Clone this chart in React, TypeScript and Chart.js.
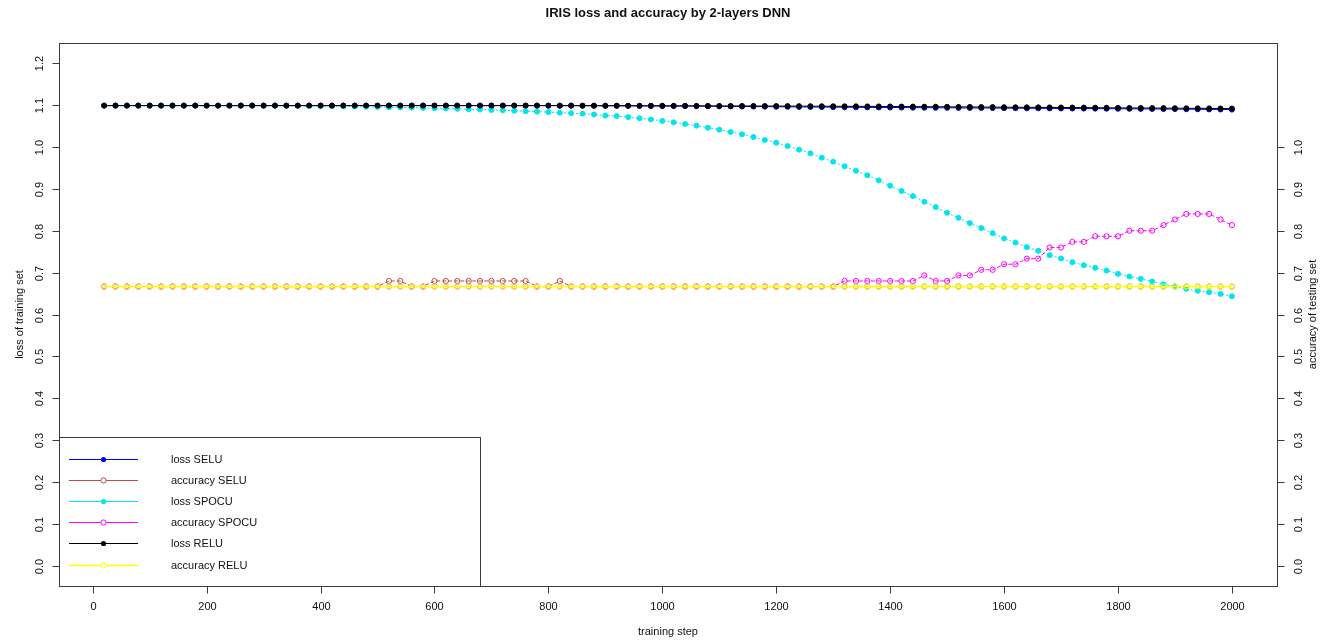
import React, { useEffect, useRef } from "react";
import { Chart, registerables } from "chart.js";

Chart.register(...registerables);

// ---------------- data ----------------
const steps = [
  20, 40, 60, 80, 100, 120, 140, 160, 180, 200,
  220, 240, 260, 280, 300, 320, 340, 360, 380, 400,
  420, 440, 460, 480, 500, 520, 540, 560, 580, 600,
  620, 640, 660, 680, 700, 720, 740, 760, 780, 800,
  820, 840, 860, 880, 900, 920, 940, 960, 980, 1000,
  1020, 1040, 1060, 1080, 1100, 1120, 1140, 1160, 1180, 1200,
  1220, 1240, 1260, 1280, 1300, 1320, 1340, 1360, 1380, 1400,
  1420, 1440, 1460, 1480, 1500, 1520, 1540, 1560, 1580, 1600,
  1620, 1640, 1660, 1680, 1700, 1720, 1740, 1760, 1780, 1800,
  1820, 1840, 1860, 1880, 1900, 1920, 1940, 1960, 1980, 2000,
];

const lossSELU = [
  1.0986, 1.0986, 1.0986, 1.0986, 1.0986, 1.0986, 1.0986, 1.0986, 1.0986, 1.0986,
  1.0986, 1.0986, 1.0986, 1.0986, 1.0986, 1.0986, 1.0986, 1.0986, 1.0986, 1.0986,
  1.0986, 1.0986, 1.0986, 1.0986, 1.0986, 1.0986, 1.0986, 1.0986, 1.0986, 1.0986,
  1.0986, 1.0986, 1.0986, 1.0986, 1.0986, 1.0986, 1.0986, 1.0986, 1.0986, 1.0986,
  1.0985, 1.0985, 1.0984, 1.0983, 1.0982, 1.0981, 1.0980, 1.0979, 1.0978, 1.0977,
  1.0976, 1.0974, 1.0973, 1.0971, 1.0969, 1.0967, 1.0965, 1.0963, 1.0961, 1.0959,
  1.0957, 1.0955, 1.0953, 1.0951, 1.0949, 1.0947, 1.0945, 1.0944, 1.0942, 1.0940,
  1.0939, 1.0937, 1.0936, 1.0934, 1.0933, 1.0931, 1.0930, 1.0928, 1.0927, 1.0925,
  1.0924, 1.0922, 1.0921, 1.0919, 1.0918, 1.0916, 1.0915, 1.0913, 1.0912, 1.0910,
  1.0909, 1.0907, 1.0906, 1.0904, 1.0902, 1.0900, 1.0898, 1.0895, 1.0893, 1.0890,
];

const accuracySELU = [
  0.6667, 0.6667, 0.6667, 0.6667, 0.6667, 0.6667, 0.6667, 0.6667, 0.6667, 0.6667,
  0.6667, 0.6667, 0.6667, 0.6667, 0.6667, 0.6667, 0.6667, 0.6667, 0.6667, 0.6667,
  0.6667, 0.6667, 0.6667, 0.6667, 0.6667, 0.68, 0.68, 0.6667, 0.6667, 0.68,
  0.68, 0.68, 0.68, 0.68, 0.68, 0.68, 0.68, 0.68, 0.6667, 0.6667,
  0.68, 0.6667, 0.6667, 0.6667, 0.6667, 0.6667, 0.6667, 0.6667, 0.6667, 0.6667,
  0.6667, 0.6667, 0.6667, 0.6667, 0.6667, 0.6667, 0.6667, 0.6667, 0.6667, 0.6667,
  0.6667, 0.6667, 0.6667, 0.6667, 0.6667, 0.6667, 0.6667, 0.6667, 0.6667, 0.6667,
  0.6667, 0.6667, 0.6667, 0.6667, 0.6667, 0.6667, 0.6667, 0.6667, 0.6667, 0.6667,
  0.6667, 0.6667, 0.6667, 0.6667, 0.6667, 0.6667, 0.6667, 0.6667, 0.6667, 0.6667,
  0.6667, 0.6667, 0.6667, 0.6667, 0.6667, 0.6667, 0.6667, 0.6667, 0.6667, 0.6667,
];

const lossSPOCU = [
  1.0986, 1.0986, 1.0986, 1.0986, 1.0986, 1.0986, 1.0986, 1.0986, 1.0986, 1.0986,
  1.0986, 1.0986, 1.0986, 1.0986, 1.0985, 1.0984, 1.0982, 1.0980, 1.0977, 1.0974,
  1.0971, 1.0967, 1.0963, 1.0959, 1.0954, 1.0949, 1.0943, 1.0937, 1.0930, 1.0923,
  1.0916, 1.0908, 1.0900, 1.0891, 1.0882, 1.0873, 1.0863, 1.0852, 1.0842, 1.0831,
  1.0818, 1.0806, 1.0794, 1.0774, 1.0750, 1.0735, 1.0711, 1.0683, 1.0655, 1.0621,
  1.0587, 1.0547, 1.0507, 1.0459, 1.0412, 1.0356, 1.0300, 1.0237, 1.0165, 1.0101,
  1.0022, 0.9934, 0.9846, 0.9743, 0.9647, 0.9536, 0.9432, 0.9321, 0.9201, 0.9073,
  0.8946, 0.8826, 0.8691, 0.8564, 0.8428, 0.8308, 0.8181, 0.8062, 0.7942, 0.7815,
  0.7719, 0.7608, 0.7520, 0.7416, 0.7337, 0.7249, 0.7177, 0.7114, 0.7050, 0.6970,
  0.6907, 0.6851, 0.6787, 0.6723, 0.6668, 0.6612, 0.6564, 0.6532, 0.6492, 0.6436,
];

const accuracySPOCU = [
  0.6667, 0.6667, 0.6667, 0.6667, 0.6667, 0.6667, 0.6667, 0.6667, 0.6667, 0.6667,
  0.6667, 0.6667, 0.6667, 0.6667, 0.6667, 0.6667, 0.6667, 0.6667, 0.6667, 0.6667,
  0.6667, 0.6667, 0.6667, 0.6667, 0.6667, 0.6667, 0.6667, 0.6667, 0.6667, 0.6667,
  0.6667, 0.6667, 0.6667, 0.6667, 0.6667, 0.6667, 0.6667, 0.6667, 0.6667, 0.6667,
  0.6667, 0.6667, 0.6667, 0.6667, 0.6667, 0.6667, 0.6667, 0.6667, 0.6667, 0.6667,
  0.6667, 0.6667, 0.6667, 0.6667, 0.6667, 0.6667, 0.6667, 0.6667, 0.6667, 0.6667,
  0.6667, 0.6667, 0.6667, 0.6667, 0.6667, 0.68, 0.68, 0.68, 0.68, 0.68,
  0.68, 0.68, 0.6933, 0.68, 0.68, 0.6933, 0.6933, 0.7067, 0.7067, 0.72,
  0.72, 0.7333, 0.7333, 0.76, 0.76, 0.7733, 0.7733, 0.7867, 0.7867, 0.7867,
  0.80, 0.80, 0.80, 0.8133, 0.8267, 0.84, 0.84, 0.84, 0.8267, 0.8133,
];

const lossRELU = [
  1.0986, 1.0986, 1.0986, 1.0986, 1.0986, 1.0986, 1.0986, 1.0986, 1.0986, 1.0986,
  1.0986, 1.0986, 1.0986, 1.0986, 1.0986, 1.0986, 1.0986, 1.0986, 1.0986, 1.0986,
  1.0986, 1.0986, 1.0986, 1.0986, 1.0986, 1.0986, 1.0986, 1.0986, 1.0986, 1.0986,
  1.0986, 1.0986, 1.0986, 1.0986, 1.0986, 1.0986, 1.0986, 1.0986, 1.0986, 1.0986,
  1.0985, 1.0985, 1.0984, 1.0984, 1.0983, 1.0983, 1.0982, 1.0982, 1.0981, 1.0981,
  1.0980, 1.0980, 1.0979, 1.0979, 1.0978, 1.0977, 1.0977, 1.0976, 1.0975, 1.0975,
  1.0974, 1.0973, 1.0972, 1.0971, 1.0970, 1.0969, 1.0968, 1.0967, 1.0966, 1.0965,
  1.0963, 1.0962, 1.0960, 1.0959, 1.0957, 1.0955, 1.0954, 1.0952, 1.0950, 1.0948,
  1.0946, 1.0945, 1.0944, 1.0943, 1.0941, 1.0940, 1.0938, 1.0936, 1.0934, 1.0932,
  1.0930, 1.0929, 1.0927, 1.0926, 1.0924, 1.0922, 1.0921, 1.0919, 1.0917, 1.0915,
];

const accuracyRELU = [
  0.6667, 0.6667, 0.6667, 0.6667, 0.6667, 0.6667, 0.6667, 0.6667, 0.6667, 0.6667,
  0.6667, 0.6667, 0.6667, 0.6667, 0.6667, 0.6667, 0.6667, 0.6667, 0.6667, 0.6667,
  0.6667, 0.6667, 0.6667, 0.6667, 0.6667, 0.6667, 0.6667, 0.6667, 0.6667, 0.6667,
  0.6667, 0.6667, 0.6667, 0.6667, 0.6667, 0.6667, 0.6667, 0.6667, 0.6667, 0.6667,
  0.6667, 0.6667, 0.6667, 0.6667, 0.6667, 0.6667, 0.6667, 0.6667, 0.6667, 0.6667,
  0.6667, 0.6667, 0.6667, 0.6667, 0.6667, 0.6667, 0.6667, 0.6667, 0.6667, 0.6667,
  0.6667, 0.6667, 0.6667, 0.6667, 0.6667, 0.6667, 0.6667, 0.6667, 0.6667, 0.6667,
  0.6667, 0.6667, 0.6667, 0.6667, 0.6667, 0.6667, 0.6667, 0.6667, 0.6667, 0.6667,
  0.6667, 0.6667, 0.6667, 0.6667, 0.6667, 0.6667, 0.6667, 0.6667, 0.6667, 0.6667,
  0.6667, 0.6667, 0.6667, 0.6667, 0.6667, 0.6667, 0.6667, 0.6667, 0.6667, 0.6667,
];

const xTicks = [0, 200, 400, 600, 800, 1000, 1200, 1400, 1600, 1800, 2000];
const yLeftTicks = [0, 0.1, 0.2, 0.3, 0.4, 0.5, 0.6, 0.7, 0.8, 0.9, 1.0, 1.1, 1.2];
const yRightTicks = [0, 0.1, 0.2, 0.3, 0.4, 0.5, 0.6, 0.7, 0.8, 0.9, 1.0];

const titleText = "IRIS loss and accuracy by 2-layers DNN";
const xTitle = "training step";
const yLeftTitle = "loss of training set";
const yRightTitle = "accuracy of testing set";

// ---------------- styles ----------------
const FONT = "'Liberation Sans', Arial, Helvetica, sans-serif";
const AXIS_COLOR = "#3a3a3a";
const TEXT_COLOR = "#111111";

type SeriesDef = {
  label: string;
  values: number[];
  color: string;
  filled: boolean;
  dash: number[];
  width: number;
  order: number;
};

const seriesDefs: SeriesDef[] = [
  { label: "loss SELU", values: lossSELU, color: "#0000FF", filled: true, dash: [], width: 1, order: 5 },
  { label: "accuracy SELU", values: accuracySELU, color: "#B84A4A", filled: false, dash: [4, 2], width: 1, order: 4 },
  { label: "loss SPOCU", values: lossSPOCU, color: "#00E5EE", filled: true, dash: [2, 2], width: 1, order: 3 },
  { label: "accuracy SPOCU", values: accuracySPOCU, color: "#FF00FF", filled: false, dash: [4, 2], width: 1, order: 2 },
  { label: "loss RELU", values: lossRELU, color: "#000000", filled: true, dash: [], width: 1, order: 1 },
  { label: "accuracy RELU", values: accuracyRELU, color: "#FFFF00", filled: false, dash: [], width: 1.5, order: 0 },
];

const decorPlugin = {
  id: "rDecor",
  afterDraw(chart: any) {
    const ctx: CanvasRenderingContext2D = chart.ctx;
    const area = chart.chartArea;
    const xs = chart.scales.x;
    const ys = chart.scales.y;
    const ys2 = chart.scales.y2;
    const L = Math.round(area.left) + 0.5;
    const R = Math.round(area.right) + 0.5;
    const T = Math.round(area.top) + 0.5;
    const B = Math.round(area.bottom) + 0.5;

    ctx.save();
    ctx.strokeStyle = AXIS_COLOR;
    ctx.lineWidth = 1;
    ctx.setLineDash([]);
    // plot box
    ctx.strokeRect(L, T, R - L, B - T);

    ctx.fillStyle = TEXT_COLOR;
    ctx.font = `11px ${FONT}`;

    // x axis ticks
    ctx.textAlign = "center";
    ctx.textBaseline = "middle";
    xTicks.forEach((t) => {
      const px = Math.round(xs.getPixelForValue(t)) + 0.5;
      ctx.beginPath();
      ctx.moveTo(px, B);
      ctx.lineTo(px, B + 7);
      ctx.stroke();
      ctx.fillText(String(t), px, B + 20);
    });

    // left y axis
    yLeftTicks.forEach((t) => {
      const py = Math.round(ys.getPixelForValue(t)) + 0.5;
      ctx.beginPath();
      ctx.moveTo(L - 7, py);
      ctx.lineTo(L, py);
      ctx.stroke();
      ctx.save();
      ctx.translate(L - 19.5, py);
      ctx.rotate(-Math.PI / 2);
      ctx.fillText(t.toFixed(1), 0, 0);
      ctx.restore();
    });

    // right y axis
    yRightTicks.forEach((t) => {
      const py = Math.round(ys2.getPixelForValue(t)) + 0.5;
      ctx.beginPath();
      ctx.moveTo(R, py);
      ctx.lineTo(R + 7, py);
      ctx.stroke();
      ctx.save();
      ctx.translate(R + 21.5, py);
      ctx.rotate(-Math.PI / 2);
      ctx.fillText(t.toFixed(1), 0, 0);
      ctx.restore();
    });

    // axis titles
    const midX = (area.left + area.right) / 2;
    const midY = (area.top + area.bottom) / 2;
    ctx.fillText(xTitle, midX, 632);
    ctx.save();
    ctx.translate(20, midY);
    ctx.rotate(-Math.PI / 2);
    ctx.fillText(yLeftTitle, 0, 0);
    ctx.restore();
    ctx.save();
    ctx.translate(1313, midY);
    ctx.rotate(-Math.PI / 2);
    ctx.fillText(yRightTitle, 0, 0);
    ctx.restore();

    // main title
    ctx.font = `bold 13px ${FONT}`;
    ctx.fillText(titleText, midX, 13);

    // legend box
    const lgL = L;
    const lgR = 480.5;
    const lgT = 437.5;
    const lgB = B;
    ctx.fillStyle = "#ffffff";
    ctx.fillRect(lgL, lgT, lgR - lgL, lgB - lgT);
    ctx.strokeStyle = AXIS_COLOR;
    ctx.strokeRect(lgL, lgT, lgR - lgL, lgB - lgT);

    ctx.font = `11px ${FONT}`;
    ctx.textAlign = "left";
    ctx.textBaseline = "middle";
    seriesDefs.forEach((s, i) => {
      const y = Math.round(459 + i * 21.1) + 0.5;
      ctx.strokeStyle = s.color;
      ctx.lineWidth = s.width;
      ctx.beginPath();
      ctx.moveTo(69, y);
      ctx.lineTo(138, y);
      ctx.stroke();
      ctx.lineWidth = 1;
      ctx.beginPath();
      if (s.filled) {
        ctx.fillStyle = s.color;
        ctx.arc(103.5, y, 2.6, 0, Math.PI * 2);
        ctx.fill();
      } else {
        ctx.fillStyle = "#ffffff";
        ctx.arc(103.5, y, 2.6, 0, Math.PI * 2);
        ctx.fill();
        ctx.stroke();
      }
      ctx.fillStyle = TEXT_COLOR;
      ctx.fillText(s.label, 171, y);
    });

    ctx.restore();
  },
};

export default function App() {
  const canvasRef = useRef<HTMLCanvasElement | null>(null);

  useEffect(() => {
    if (!canvasRef.current) return;
    const datasets = seriesDefs.map((s) => ({
      label: s.label,
      data: steps.map((x, i) => ({ x, y: s.values[i] })),
      borderColor: s.color,
      backgroundColor: s.color,
      borderWidth: s.width,
      borderDash: s.dash,
      pointRadius: s.filled ? 2.5 : 2.6,
      pointBorderWidth: 1,
      pointBorderColor: s.color,
      pointBackgroundColor: s.filled ? s.color : "rgba(255,255,255,0)",
      pointStyle: "circle",
      tension: 0,
      fill: false,
      order: s.order,
    }));

    const chart = new Chart(canvasRef.current, {
      type: "line",
      data: { datasets },
      options: {
        responsive: false,
        maintainAspectRatio: false,
        animation: false,
        layout: { padding: { left: 59, top: 43, right: 61, bottom: 55 } },
        plugins: {
          legend: { display: false },
          tooltip: { enabled: false },
          title: { display: false },
        },
        scales: {
          x: { type: "linear", min: -59.2, max: 2079.2, display: false },
          y: { type: "linear", min: -0.048, max: 1.248, display: false },
          y2: { type: "linear", position: "right", min: -0.048, max: 1.248, display: false },
        },
      },
      plugins: [decorPlugin],
    } as any);

    return () => chart.destroy();
  }, []);

  return (
    <div style={{ position: "absolute", left: 0, top: 0, width: 1338, height: 641, background: "#ffffff" }}>
      <canvas ref={canvasRef} width={1338} height={641} style={{ display: "block" }} />
    </div>
  );
}
